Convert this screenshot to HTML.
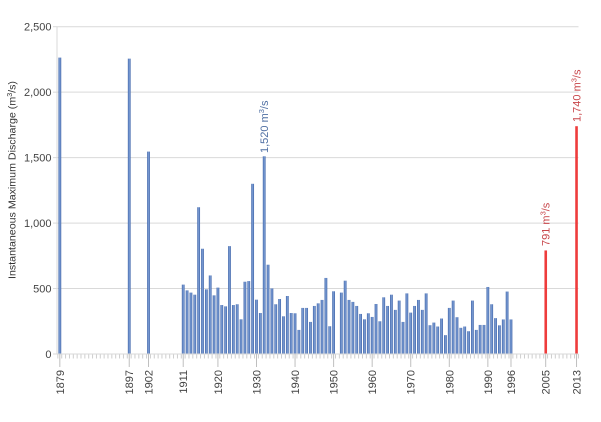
<!DOCTYPE html>
<html><head><meta charset="utf-8"><style>
html,body{margin:0;padding:0;background:#fff;}
svg{display:block;font-family:"Liberation Sans",sans-serif;}
</style></head><body>
<svg width="601" height="422" viewBox="0 0 601 422" xmlns="http://www.w3.org/2000/svg">
<defs>
<linearGradient id="bg" x1="0" y1="0" x2="1" y2="0">
<stop offset="0" stop-color="#3e62a6"/><stop offset="0.5" stop-color="#7fa1d8"/><stop offset="1" stop-color="#3e62a6"/>
</linearGradient>
<pattern id="mt" patternUnits="userSpaceOnUse" x="57.4" y="354" width="3.856" height="5">
<rect x="0" y="0" width="0.9" height="5" fill="#c8c8c8"/>
</pattern>
</defs>
<rect width="601" height="422" fill="#fff"/>
<g stroke="#d9d9d9" stroke-width="1">
<line x1="57" y1="26.7" x2="578.5" y2="26.7"/>
<line x1="57" y1="92.16" x2="578.5" y2="92.16"/>
<line x1="57" y1="157.62" x2="578.5" y2="157.62"/>
<line x1="57" y1="223.08" x2="578.5" y2="223.08"/>
<line x1="57" y1="288.54" x2="578.5" y2="288.54"/>
<line x1="57" y1="26.7" x2="57" y2="354"/>
<line x1="53" y1="26.7" x2="57" y2="26.7"/>
<line x1="53" y1="92.16" x2="57" y2="92.16"/>
<line x1="53" y1="157.62" x2="57" y2="157.62"/>
<line x1="53" y1="223.08" x2="57" y2="223.08"/>
<line x1="53" y1="288.54" x2="57" y2="288.54"/>
<line x1="53" y1="354" x2="57" y2="354"/>
</g>
<rect x="57" y="354" width="522" height="4.5" fill="url(#mt)"/>
<g fill="url(#bg)">
<rect x="58.43" y="57.60" width="2.8" height="296.40"/>
<rect x="127.84" y="58.64" width="2.8" height="295.36"/>
<rect x="147.12" y="151.60" width="2.8" height="202.40"/>
<rect x="181.82" y="284.61" width="2.8" height="69.39"/>
<rect x="185.68" y="290.37" width="2.8" height="63.63"/>
<rect x="189.53" y="292.60" width="2.8" height="61.40"/>
<rect x="193.39" y="294.69" width="2.8" height="59.31"/>
<rect x="197.24" y="207.24" width="2.8" height="146.76"/>
<rect x="201.10" y="248.74" width="2.8" height="105.26"/>
<rect x="204.96" y="289.33" width="2.8" height="64.67"/>
<rect x="208.81" y="275.45" width="2.8" height="78.55"/>
<rect x="212.67" y="295.35" width="2.8" height="58.65"/>
<rect x="216.52" y="287.62" width="2.8" height="66.38"/>
<rect x="220.38" y="305.04" width="2.8" height="48.96"/>
<rect x="224.24" y="306.35" width="2.8" height="47.65"/>
<rect x="228.09" y="246.12" width="2.8" height="107.88"/>
<rect x="231.95" y="305.04" width="2.8" height="48.96"/>
<rect x="235.80" y="304.25" width="2.8" height="49.75"/>
<rect x="239.66" y="319.31" width="2.8" height="34.69"/>
<rect x="243.52" y="281.73" width="2.8" height="72.27"/>
<rect x="247.37" y="281.08" width="2.8" height="72.92"/>
<rect x="251.23" y="183.80" width="2.8" height="170.20"/>
<rect x="255.08" y="299.67" width="2.8" height="54.33"/>
<rect x="258.94" y="313.02" width="2.8" height="40.98"/>
<rect x="262.80" y="156.31" width="2.8" height="197.69"/>
<rect x="266.65" y="264.71" width="2.8" height="89.29"/>
<rect x="270.51" y="288.41" width="2.8" height="65.59"/>
<rect x="274.36" y="304.25" width="2.8" height="49.75"/>
<rect x="278.22" y="299.01" width="2.8" height="54.99"/>
<rect x="282.08" y="316.30" width="2.8" height="37.70"/>
<rect x="285.93" y="296.00" width="2.8" height="58.00"/>
<rect x="289.79" y="313.02" width="2.8" height="40.98"/>
<rect x="293.64" y="313.28" width="2.8" height="40.72"/>
<rect x="297.50" y="329.91" width="2.8" height="24.09"/>
<rect x="301.36" y="307.92" width="2.8" height="46.08"/>
<rect x="305.21" y="307.92" width="2.8" height="46.08"/>
<rect x="309.07" y="321.92" width="2.8" height="32.08"/>
<rect x="312.92" y="305.95" width="2.8" height="48.05"/>
<rect x="316.78" y="303.33" width="2.8" height="50.67"/>
<rect x="320.64" y="299.93" width="2.8" height="54.07"/>
<rect x="324.49" y="277.94" width="2.8" height="76.06"/>
<rect x="328.35" y="326.24" width="2.8" height="27.76"/>
<rect x="332.20" y="291.29" width="2.8" height="62.71"/>
<rect x="339.92" y="292.60" width="2.8" height="61.40"/>
<rect x="343.77" y="280.68" width="2.8" height="73.32"/>
<rect x="347.63" y="299.93" width="2.8" height="54.07"/>
<rect x="351.48" y="301.89" width="2.8" height="52.11"/>
<rect x="355.34" y="305.95" width="2.8" height="48.05"/>
<rect x="359.20" y="313.94" width="2.8" height="40.06"/>
<rect x="363.05" y="319.31" width="2.8" height="34.69"/>
<rect x="366.91" y="313.28" width="2.8" height="40.72"/>
<rect x="370.76" y="316.95" width="2.8" height="37.05"/>
<rect x="374.62" y="303.99" width="2.8" height="50.01"/>
<rect x="378.48" y="321.27" width="2.8" height="32.73"/>
<rect x="382.33" y="297.31" width="2.8" height="56.69"/>
<rect x="386.19" y="305.95" width="2.8" height="48.05"/>
<rect x="390.04" y="294.69" width="2.8" height="59.31"/>
<rect x="393.90" y="309.88" width="2.8" height="44.12"/>
<rect x="397.76" y="300.58" width="2.8" height="53.42"/>
<rect x="401.61" y="321.92" width="2.8" height="32.08"/>
<rect x="405.47" y="293.38" width="2.8" height="60.62"/>
<rect x="409.32" y="312.63" width="2.8" height="41.37"/>
<rect x="413.18" y="305.95" width="2.8" height="48.05"/>
<rect x="417.04" y="299.93" width="2.8" height="54.07"/>
<rect x="420.89" y="309.88" width="2.8" height="44.12"/>
<rect x="424.75" y="293.38" width="2.8" height="60.62"/>
<rect x="428.60" y="325.20" width="2.8" height="28.80"/>
<rect x="432.46" y="322.58" width="2.8" height="31.42"/>
<rect x="436.32" y="326.51" width="2.8" height="27.49"/>
<rect x="440.17" y="318.52" width="2.8" height="35.48"/>
<rect x="444.03" y="335.15" width="2.8" height="18.85"/>
<rect x="447.88" y="307.92" width="2.8" height="46.08"/>
<rect x="451.74" y="300.58" width="2.8" height="53.42"/>
<rect x="455.60" y="317.21" width="2.8" height="36.79"/>
<rect x="459.45" y="327.82" width="2.8" height="26.18"/>
<rect x="463.31" y="326.51" width="2.8" height="27.49"/>
<rect x="467.16" y="331.22" width="2.8" height="22.78"/>
<rect x="471.02" y="300.58" width="2.8" height="53.42"/>
<rect x="474.88" y="329.91" width="2.8" height="24.09"/>
<rect x="478.73" y="324.94" width="2.8" height="29.06"/>
<rect x="482.59" y="324.94" width="2.8" height="29.06"/>
<rect x="486.44" y="286.97" width="2.8" height="67.03"/>
<rect x="490.30" y="304.25" width="2.8" height="49.75"/>
<rect x="494.16" y="318.13" width="2.8" height="35.87"/>
<rect x="498.01" y="325.33" width="2.8" height="28.67"/>
<rect x="501.87" y="319.44" width="2.8" height="34.56"/>
<rect x="505.72" y="291.55" width="2.8" height="62.45"/>
<rect x="509.58" y="319.44" width="2.8" height="34.56"/>
</g>
<g fill="#ee3c3c">
<rect x="544.44" y="250.44" width="2.6" height="103.56"/>
<rect x="575.23" y="126.20" width="2.6" height="227.80"/>
</g>
<line x1="57" y1="354" x2="578.5" y2="354" stroke="#d9d9d9" stroke-width="1"/>
<g stroke="#bfbfbf" stroke-width="1">
<line x1="59.83" y1="354" x2="59.83" y2="367"/>
<line x1="129.24" y1="354" x2="129.24" y2="367"/>
<line x1="148.52" y1="354" x2="148.52" y2="367"/>
<line x1="183.22" y1="354" x2="183.22" y2="367"/>
<line x1="217.93" y1="354" x2="217.93" y2="367"/>
<line x1="256.49" y1="354" x2="256.49" y2="367"/>
<line x1="295.05" y1="354" x2="295.05" y2="367"/>
<line x1="333.61" y1="354" x2="333.61" y2="367"/>
<line x1="372.17" y1="354" x2="372.17" y2="367"/>
<line x1="410.73" y1="354" x2="410.73" y2="367"/>
<line x1="449.29" y1="354" x2="449.29" y2="367"/>
<line x1="487.85" y1="354" x2="487.85" y2="367"/>
<line x1="510.98" y1="354" x2="510.98" y2="367"/>
<line x1="545.69" y1="354" x2="545.69" y2="367"/>
<line x1="576.53" y1="354" x2="576.53" y2="367"/>
</g>
<g fill="#444" font-size="11" text-anchor="end">
<text x="51.5" y="30.7">2,500</text>
<text x="51.5" y="96.2">2,000</text>
<text x="51.5" y="161.6">1,500</text>
<text x="51.5" y="227.1">1,000</text>
<text x="51.5" y="292.5">500</text>
<text x="51.5" y="358">0</text>
</g>
<g fill="#444" font-size="11" text-anchor="end">
<text transform="translate(63.8,370) rotate(-90)">1879</text>
<text transform="translate(133.2,370) rotate(-90)">1897</text>
<text transform="translate(152.5,370) rotate(-90)">1902</text>
<text transform="translate(187.2,370) rotate(-90)">1911</text>
<text transform="translate(221.9,370) rotate(-90)">1920</text>
<text transform="translate(260.5,370) rotate(-90)">1930</text>
<text transform="translate(299.0,370) rotate(-90)">1940</text>
<text transform="translate(337.6,370) rotate(-90)">1950</text>
<text transform="translate(376.2,370) rotate(-90)">1960</text>
<text transform="translate(414.7,370) rotate(-90)">1970</text>
<text transform="translate(453.3,370) rotate(-90)">1980</text>
<text transform="translate(491.8,370) rotate(-90)">1990</text>
<text transform="translate(515.0,370) rotate(-90)">1996</text>
<text transform="translate(549.7,370) rotate(-90)">2005</text>
<text transform="translate(580.5,370) rotate(-90)">2013</text>
</g>
<text transform="translate(15.5,180) rotate(-90)" text-anchor="middle" font-size="10.5" fill="#333" textLength="198" lengthAdjust="spacingAndGlyphs">Instantaneous Maximum Discharge (m<tspan font-size="7" dy="-3.5">3</tspan><tspan dy="3.5">/s)</tspan></text>
<text transform="translate(267.8,153) rotate(-90)" font-size="11" fill="#4f6fa3">1,520 m<tspan font-size="7.5" dy="-4">3</tspan><tspan dy="4">/s</tspan></text>
<text transform="translate(549.6,246) rotate(-90)" font-size="11" fill="#c8464a">791 m<tspan font-size="7.5" dy="-4">3</tspan><tspan dy="4">/s</tspan></text>
<text transform="translate(580.5,122) rotate(-90)" font-size="11" fill="#c8464a">1,740 m<tspan font-size="7.5" dy="-4">3</tspan><tspan dy="4">/s</tspan></text>
</svg>
</body></html>
